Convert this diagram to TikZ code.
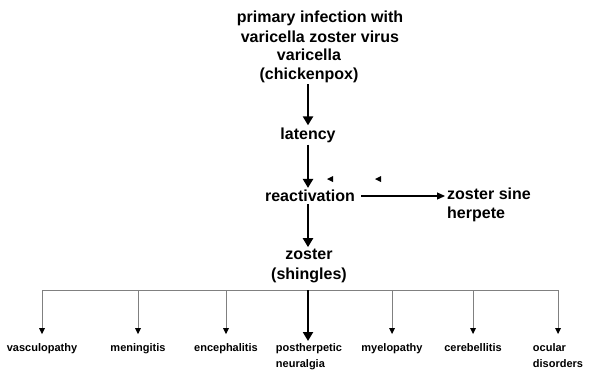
\documentclass[tikz,border=0pt]{standalone}
\usepackage{fontspec}
\setmainfont{Liberation Sans}
\usepackage{tikz}
\usetikzlibrary{arrows.meta,positioning}
\tikzset{big/.style={font=\fontsize{16}{19.5}\selectfont\bfseries, inner sep=2pt}}
\tikzset{small/.style={font=\fontsize{11}{16}\selectfont\bfseries, inner sep=2pt, anchor=north, align=left}}
\tikzset{mainarrow/.style={line width=2.4pt, -{Triangle[length=9pt,width=10pt]}}}
\tikzset{branch/.style={gray, line width=0.6pt, -{Triangle[length=6pt,width=6pt]}, black}}

\begin{document}
\begin{tikzpicture}[x=1pt,y=-1pt]
\useasboundingbox (0,0) rectangle (591,376);
\node[big, align=center] (primary) at (320,27) {primary infection with\\varicella zoster virus};
\node[big, align=center] (varicella) at (309,66) {varicella\\(chickenpox)};
\node[big] (latency) at (308,135) {latency};
\node[big] (react) at (310,196) {reactivation};
\node[big, align=left, anchor=west] (sine) at (445,205) {zoster sine\\herpete};
\node[big, align=center] (zoster) at (309,266) {zoster\\(shingles)};

\draw[mainarrow] (308,84) -- (latency.north -| 308,0);
\draw[mainarrow] (latency.south -| 308,0) -- (react.north -| 308,0);
\draw[mainarrow] (react.south -| 308,0) -- (zoster.north -| 308,0);
\draw[line width=1.2pt, -{Triangle[length=8pt,width=7pt]}] (react.east) ++(4,0) -- (sine.west |- react.east);

% small marks
\fill (333,176) -- (327,179) -- (333,182) -- cycle;
\fill (381,176) -- (375,179) -- (381,182) -- cycle;

% complications
\coordinate (busl) at (42,290);
\coordinate (busr) at (558,290);
\draw[gray, line width=0.6pt] (busl) -- (busr);
\foreach \name/\x/\txt in {vasc/42/vasculopathy, menin/138/meningitis, enceph/226/encephalitis,
  myelo/392/myelopathy, cereb/473/cerebellitis, ocular/558/{ocular\\disorders}}{
  \node[small] (\name) at (\x,341) {\txt};
  \draw[gray, line width=0.6pt] (\x,290) -- (\x,333);
  \fill (\x-3,328) -- (\x+3,328) -- (\x,334) -- cycle;
}
\node[small] (phn) at (309,341) {postherpetic\\neuralgia};
\draw[mainarrow, line width=2pt] (308,290) -- (phn.north -| 308,0);
\end{tikzpicture}
\end{document}
